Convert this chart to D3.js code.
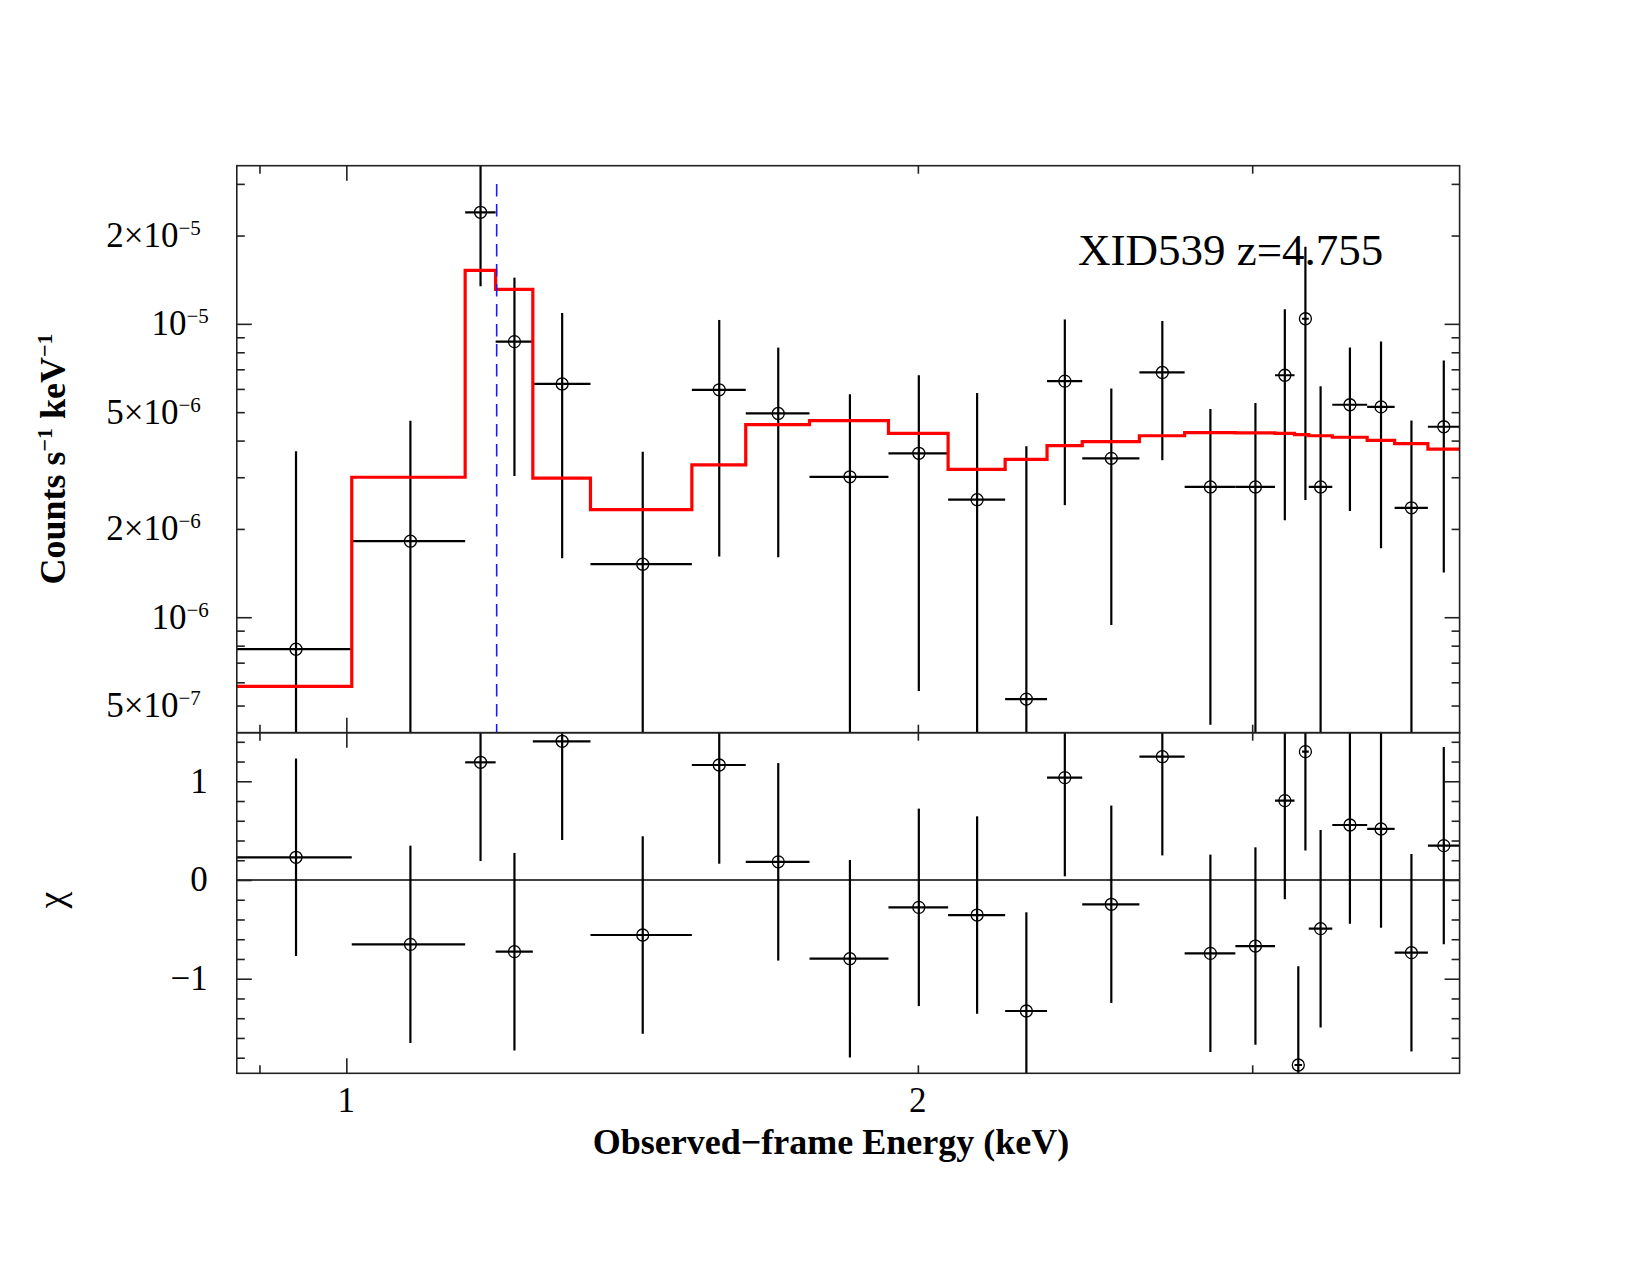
<!DOCTYPE html>
<html>
<head>
<meta charset="utf-8">
<script src="https://cdn.jsdelivr.net/npm/d3@7"></script>
<style>
  body { margin: 0; background: #fff; }
  svg { display: block; }
  text { font-family: "Liberation Serif", "Times New Roman", serif; fill: #000; }
</style>
</head>
<body>
<svg id="chart" width="1650" height="1275"></svg>
<script>
// bin edges in keV (25 bins, contiguous)
const binEdges = [0.875, 1.0066, 1.155, 1.1985, 1.2538, 1.3446, 1.5205, 1.6232, 1.7537, 1.9299,
  2.0747, 2.2233, 2.3392, 2.4412, 2.6164, 2.764, 2.9394, 3.0842, 3.158, 3.187,
  3.213, 3.306, 3.4489, 3.5657, 3.7125, 3.857];

// counts s^-1 keV^-1 per bin (null = not shown on log axis)
const counts = [7.78e-7, 1.816e-6, 2.40e-5, 8.70e-6, 6.24e-6, 1.516e-6, 5.96e-6, 4.95e-6, 3.01e-6,
  3.62e-6, 2.515e-6, 5.26e-7, 6.38e-6, 3.48e-6, 6.83e-6, 2.78e-6, 2.78e-6, 6.68e-6, null,
  1.041e-5, 2.78e-6, 5.30e-6, 5.21e-6, 2.36e-6, 4.46e-6];
const countErr = [2.90e-6, 2.86e-6, 1.057e-5, 5.67e-6, 4.65e-6, 2.15e-6, 4.35e-6, 3.35e-6, 2.74e-6,
  3.06e-6, 3.30e-6, 3.30e-6, 3.97e-6, 2.54e-6, 3.40e-6, 2.35e-6, 2.59e-6, 4.54e-6, null,
  7.9e-6, 3.35e-6, 3.0e-6, 3.49e-6, 2.32e-6, 3.04e-6];

// folded model per bin
const model = [5.81e-7, 3.0e-6, 1.521e-5, 1.31e-5, 2.98e-6, 2.326e-6, 3.305e-6, 4.533e-6, 4.678e-6,
  4.233e-6, 3.192e-6, 3.45e-6, 3.845e-6, 3.967e-6, 4.155e-6, 4.26e-6, 4.25e-6, 4.233e-6, 4.195e-6,
  4.19e-6, 4.155e-6, 4.107e-6, 4.005e-6, 3.906e-6, 3.74e-6];

// residuals (sigma), error is 1 for each bin
const chi = [0.230, -0.652, 1.192, -0.726, 1.405, -0.557, 1.165, 0.184, -0.797, -0.277, -0.355,
  -1.327, 1.037, -0.246, 1.249, -0.743, -0.669, 0.804, -1.874, 1.300, -0.493, 0.557, 0.517,
  -0.736, 0.348];

const lineEnergy = 1.2;      // blue dashed marker
const lineTop = 3e-5;

const xMajor = [1];
const xMinor = [0.9, 2, 3];
const xLabels = [{ v: 1, t: '1' }, { v: 2, t: '2' }];

const yMajor = [1e-6, 1e-5];
const yMinor = [5e-7, 6e-7, 7e-7, 8e-7, 9e-7, 2e-6, 3e-6, 4e-6, 5e-6, 6e-6, 7e-6, 8e-6, 9e-6, 2e-5, 3e-5];
const yLabels = [
  { v: 5e-7, m: '5×10', e: '−7' }, { v: 1e-6, m: '10', e: '−6' },
  { v: 2e-6, m: '2×10', e: '−6' }, { v: 5e-6, m: '5×10', e: '−6' },
  { v: 1e-5, m: '10', e: '−5' }, { v: 2e-5, m: '2×10', e: '−5' }
];

const chiMajor = [-1, 0, 1];
const chiMinor = [-1.8, -1.6, -1.4, -1.2, -0.8, -0.6, -0.4, -0.2, 0.2, 0.4, 0.6, 0.8, 1.2, 1.4];
const chiLabels = [{ v: 1, t: '1' }, { v: 0, t: '0' }, { v: -1, t: '−1' }];

// layout
const left = 236.8, right = 1459.6;
const top1 = 165.7, mid = 732.7, bot2 = 1073.3;
const frameColor = '#222';

const svg = d3.select('#chart');

const x = d3.scaleLog().domain([0.8756, 3.858]).range([left, right]);
const yTop = d3.scaleLog().domain([4.04e-7, 3.46e-5]).range([mid, top1]);
const yChi = d3.scaleLinear().domain([-1.958, 1.492]).range([bot2, mid]);

const bins = binEdges.slice(0, -1).map((lo, i) => ({
  lo, hi: binEdges[i + 1], c: (lo + binEdges[i + 1]) / 2,
  v: counts[i], err: countErr[i], m: model[i], chi: chi[i]
}));

// clip paths
const defs = svg.append('defs');
defs.append('clipPath').attr('id', 'clipTop').append('rect')
  .attr('x', left).attr('y', top1).attr('width', right - left).attr('height', mid - top1);
defs.append('clipPath').attr('id', 'clipBot').append('rect')
  .attr('x', left).attr('y', mid).attr('width', right - left).attr('height', bot2 - mid);

// ---- top panel ----
const gTop = svg.append('g').attr('clip-path', 'url(#clipTop)');
const yMin = yTop.domain()[0] * 0.5;

const shown = bins.filter(d => d.v !== null);

gTop.selectAll('.hbar').data(shown).join('line')
  .attr('x1', d => x(d.lo)).attr('x2', d => x(d.hi))
  .attr('y1', d => yTop(d.v)).attr('y2', d => yTop(d.v))
  .attr('stroke', '#000').attr('stroke-width', 2.2);

gTop.selectAll('.vbar').data(shown).join('line')
  .attr('x1', d => x(d.c)).attr('x2', d => x(d.c))
  .attr('y1', d => yTop(d.v + d.err))
  .attr('y2', d => yTop(Math.max(d.v - d.err, yMin)))
  .attr('stroke', '#000').attr('stroke-width', 2.2);

gTop.selectAll('circle').data(shown).join('circle')
  .attr('cx', d => x(d.c)).attr('cy', d => yTop(d.v)).attr('r', 6)
  .attr('fill', 'none').attr('stroke', '#000').attr('stroke-width', 1.3);

const stepData = bins.map(d => [d.lo, d.m]).concat([[bins[bins.length - 1].hi, bins[bins.length - 1].m]]);
gTop.append('path')
  .datum(stepData)
  .attr('fill', 'none').attr('stroke', '#ff0000').attr('stroke-width', 3.2)
  .attr('d', d3.line().x(d => x(d[0])).y(d => yTop(d[1])).curve(d3.curveStepAfter));

gTop.append('line')
  .attr('x1', x(lineEnergy)).attr('x2', x(lineEnergy))
  .attr('y1', yTop(lineTop)).attr('y2', mid)
  .attr('stroke', '#1a1aff').attr('stroke-width', 1.6)
  .attr('stroke-dasharray', '12.5,7.5');

// ---- bottom panel ----
const gBot = svg.append('g').attr('clip-path', 'url(#clipBot)');

gBot.append('line')
  .attr('x1', left).attr('x2', right).attr('y1', yChi(0)).attr('y2', yChi(0))
  .attr('stroke', '#000').attr('stroke-width', 1.6);

gBot.selectAll('.hbar').data(bins).join('line')
  .attr('x1', d => x(d.lo)).attr('x2', d => x(d.hi))
  .attr('y1', d => yChi(d.chi)).attr('y2', d => yChi(d.chi))
  .attr('stroke', '#000').attr('stroke-width', 2.2);

gBot.selectAll('.vbar').data(bins).join('line')
  .attr('x1', d => x(d.c)).attr('x2', d => x(d.c))
  .attr('y1', d => yChi(d.chi + 1)).attr('y2', d => yChi(d.chi - 1))
  .attr('stroke', '#000').attr('stroke-width', 2.2);

gBot.selectAll('circle').data(bins).join('circle')
  .attr('cx', d => x(d.c)).attr('cy', d => yChi(d.chi)).attr('r', 6)
  .attr('fill', 'none').attr('stroke', '#000').attr('stroke-width', 1.3);

// ---- ticks (inward) ----
function tickSet(axisFn, scale, values, size, tx, ty) {
  const g = svg.append('g').attr('transform', `translate(${tx},${ty})`)
    .call(axisFn(scale).tickValues(values).tickSize(-size).tickFormat(''));
  g.select('.domain').remove();
  g.selectAll('line').attr('stroke', frameColor).attr('stroke-width', 1.6);
}

[[d3.axisTop, top1], [d3.axisBottom, mid], [d3.axisTop, mid], [d3.axisBottom, bot2]].forEach(([fn, ty]) => {
  tickSet(fn, x, xMajor, 15, 0, ty);
  tickSet(fn, x, xMinor, 8, 0, ty);
});
[[d3.axisLeft, left], [d3.axisRight, right]].forEach(([fn, tx]) => {
  tickSet(fn, yTop, yMajor, 15, tx, 0);
  tickSet(fn, yTop, yMinor, 8, tx, 0);
  tickSet(fn, yChi, chiMajor, 15, tx, 0);
  tickSet(fn, yChi, chiMinor, 8, tx, 0);
});

// frames
[[top1, mid], [mid, bot2]].forEach(([a, b]) => {
  svg.append('rect').attr('x', left).attr('y', a).attr('width', right - left).attr('height', b - a)
    .attr('fill', 'none').attr('stroke', frameColor).attr('stroke-width', 1.6);
});

// ---- tick labels ----
yLabels.forEach(d => {
  const t = svg.append('text')
    .attr('x', d.m === '10' ? left - 28 : left - 36)
    .attr('y', yTop(d.v) + 11.5)
    .attr('text-anchor', 'end').style('font-size', '35px');
  t.append('tspan').text(d.m);
  t.append('tspan').attr('dy', -12).style('font-size', '21px').text(d.e);
});

chiLabels.forEach(d => {
  svg.append('text')
    .attr('x', left - 29).attr('y', yChi(d.v) + 11.5)
    .attr('text-anchor', 'end').style('font-size', '35px').text(d.t);
});

xLabels.forEach(d => {
  svg.append('text')
    .attr('x', x(d.v)).attr('y', 1112)
    .attr('text-anchor', 'middle').style('font-size', '35px').text(d.t);
});

// ---- titles ----
svg.append('text')
  .attr('x', 831).attr('y', 1154)
  .attr('text-anchor', 'middle').style('font-size', '36px').style('font-weight', 'bold')
  .text('Observed−frame Energy (keV)');

const yl = svg.append('text')
  .attr('transform', 'translate(65,459) rotate(-90)')
  .attr('text-anchor', 'middle').style('font-size', '36px').style('font-weight', 'bold');
yl.append('tspan').text('Counts s');
yl.append('tspan').attr('dy', -13).style('font-size', '22px').text('−1');
yl.append('tspan').attr('dy', 13).text(' keV');
yl.append('tspan').attr('dy', -13).style('font-size', '22px').text('−1');

svg.append('text')
  .attr('transform', 'translate(64,900) rotate(-90)')
  .attr('text-anchor', 'middle').style('font-size', '38px')
  .text('χ');

svg.append('text')
  .attr('x', 1078).attr('y', 265)
  .style('font-size', '45px')
  .text('XID539 z=4.755');
</script>
</body>
</html>
